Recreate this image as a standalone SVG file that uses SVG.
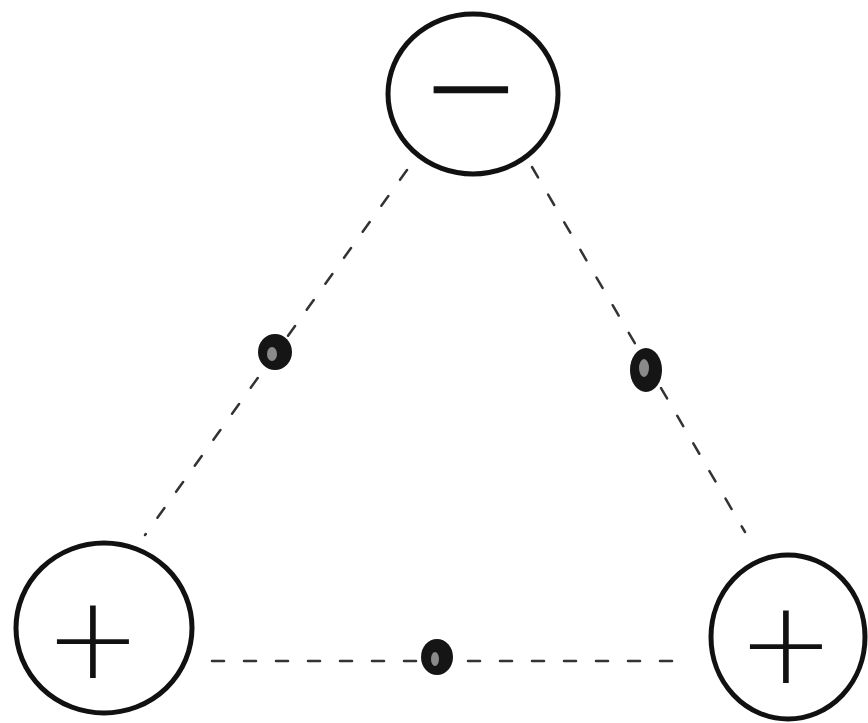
<svg xmlns="http://www.w3.org/2000/svg" width="868" height="723" viewBox="0 0 868 723">
<style>
.ring{fill:none;stroke:#111;stroke-width:5}
.sign{font-family:"DejaVu Sans","Liberation Sans",sans-serif;font-weight:200;font-size:115px;fill:#111;text-anchor:middle}
.heavy{stroke:#111;stroke-width:2.5}
.bond{stroke:#333;stroke-width:2.5;stroke-dasharray:12 20;fill:none;stroke-linecap:round}
.dot{fill:#151515}
.dotin{fill:#8a8a8a}
</style>
<rect width="868" height="723" fill="#fff"/>
<g id="connectors">
<line class="bond" x1="407" y1="170" x2="145" y2="535"/>
<line class="bond" x1="532" y1="167" x2="745" y2="532"/>
<line class="bond" x1="212" y1="661" x2="678" y2="661"/>
</g>
<g id="dot-left"><ellipse class="dot" cx="275" cy="352" rx="17" ry="18"/><ellipse class="dotin" cx="272" cy="354" rx="5" ry="7"/></g>
<g id="dot-right"><ellipse class="dot" cx="646" cy="370" rx="16" ry="22"/><ellipse class="dotin" cx="644" cy="368" rx="5" ry="9"/></g>
<g id="dot-bottom"><ellipse class="dot" cx="437" cy="657" rx="16" ry="18"/><ellipse class="dotin" cx="435" cy="659" rx="4" ry="7"/></g>
<g id="node-top">
<ellipse class="ring" cx="473" cy="94" rx="85" ry="80"/>
<text class="sign heavy" x="471" y="126">−</text>
</g>
<g id="node-left">
<ellipse class="ring" cx="104" cy="628" rx="88" ry="85"/>
<text class="sign" x="93" y="678">+</text>
</g>
<g id="node-right">
<ellipse class="ring" cx="788" cy="637" rx="77" ry="82"/>
<text class="sign" x="786" y="683">+</text>
</g>
</svg>
